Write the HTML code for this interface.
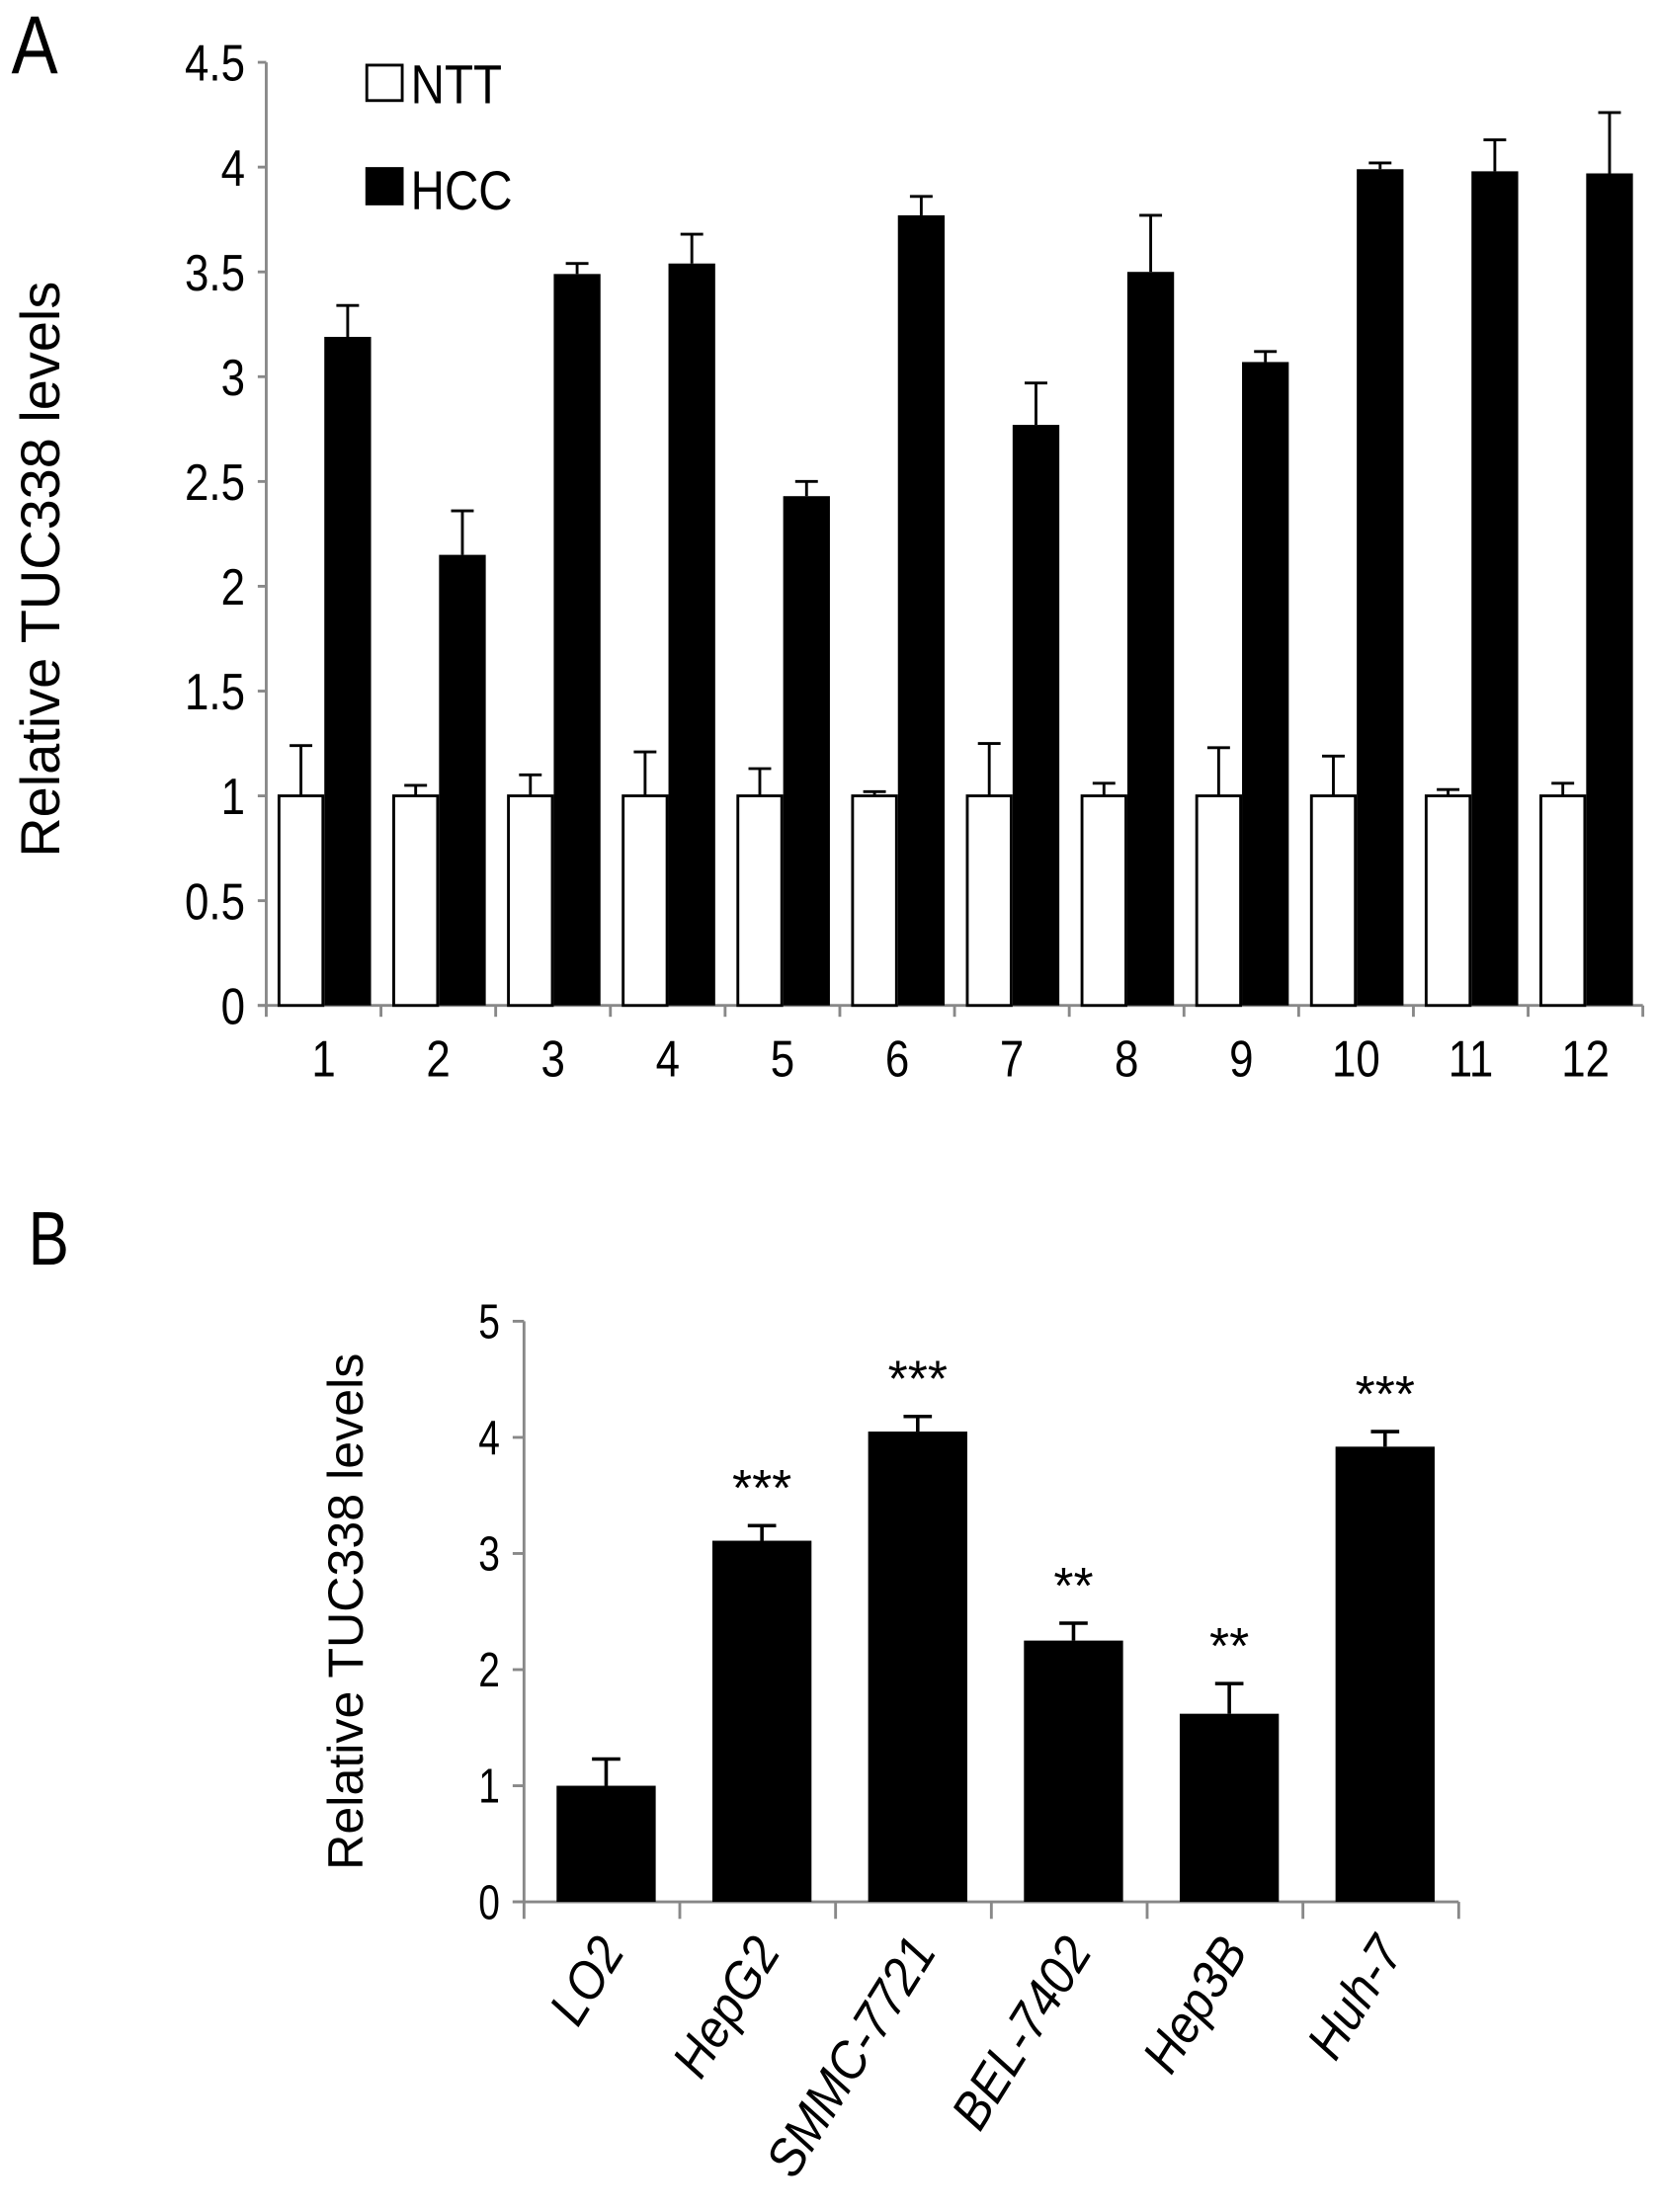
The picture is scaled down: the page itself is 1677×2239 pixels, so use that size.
<!DOCTYPE html>
<html><head><meta charset="utf-8"><style>
html,body{margin:0;padding:0;background:#fff;}
svg{display:block;}
text{font-family:"Liberation Sans",sans-serif;fill:#000;}
</style></head><body>
<svg id="fig" width="1677" height="2239" viewBox="0 0 1170 1562" preserveAspectRatio="none" xmlns="http://www.w3.org/2000/svg">
<rect width="1170" height="1562" fill="#fff"/>
<text x="0" y="0" font-size="58" transform="translate(8,52) scale(0.85,1)">A</text>
<text x="0" y="0" font-size="54" transform="translate(20,893) scale(0.8,1)">B</text>
<g id="chartA"></g>
<g id="chartB"></g>
</svg>
<script>
const catsA = ['1','2','3','4','5','6','7','8','9','10','11','12'];
const nttVals = [1,1,1,1,1,1,1,1,1,1,1,1];
const nttErr = [0.24,0.05,0.10,0.21,0.13,0.02,0.25,0.06,0.23,0.19,0.03,0.06];
const hccVals = [3.19,2.15,3.49,3.54,2.43,3.77,2.77,3.50,3.07,3.99,3.98,3.97];
const hccErr = [0.15,0.21,0.05,0.14,0.07,0.09,0.20,0.27,0.05,0.03,0.15,0.29];
const ticksA = ['0','0.5','1','1.5','2','2.5','3','3.5','4','4.5'];

const catsB = ['LO2','HepG2','SMMC-7721','BEL-7402','Hep3B','Huh-7'];
const valsB = [1.0,3.11,4.05,2.25,1.62,3.92];
const errB = [0.23,0.13,0.13,0.15,0.26,0.13];
const starsB = ['','***','***','**','**','***'];
const ticksB = ['0','1','2','3','4','5'];

const NS='http://www.w3.org/2000/svg';
function mk(parent,tag,attrs,txt){const e=document.createElementNS(NS,tag);for(const k in attrs)e.setAttribute(k,attrs[k]);if(txt!==undefined)e.textContent=txt;parent.appendChild(e);return e;}

// Chart A
(function(){
const g=document.getElementById('chartA');
const x0=188,x1=1160,y0=710,yTop=44,max=4.5;
const y=v=>y0-(v/max)*(y0-yTop);
const cw=(x1-x0)/catsA.length;
const cx=i=>x0+i*cw;
let e;
e=mk(g,'line',{x1:x0,y1:yTop,x2:x0,y2:y0,stroke:'#888','stroke-width':2});


e=mk(g,'line',{x1:x0-6,y1:y0,x2:x1,y2:y0,stroke:'#888','stroke-width':2});


ticksA.forEach(t=>{const v=parseFloat(t);
 mk(g,'line',{x1:x0-6,y1:y(v),x2:x0,y2:y(v),stroke:'#888','stroke-width':2});
 e=mk(g,'text',{x:0,y:0,'font-size':36,'text-anchor':'end',transform:'translate(173,'+(y(v)+13)+') scale(0.85,1)'},t);
 
 
});
for(let i=0;i<=catsA.length;i++)mk(g,'line',{x1:cx(i),y1:y0,x2:cx(i),y2:y0+8,stroke:'#888','stroke-width':2});
catsA.forEach((c,i)=>{
 const l=cx(i)+9;
 const yt=y(nttVals[i]+nttErr[i]), cxn=l+15.5;
 mk(g,'line',{x1:cxn,y1:y(nttVals[i]),x2:cxn,y2:yt,stroke:'#000','stroke-width':2});
 mk(g,'line',{x1:cxn-8,y1:yt,x2:cxn+8,y2:yt,stroke:'#000','stroke-width':2});
 e=mk(g,'rect',{x:l,y:y(nttVals[i]),width:31,height:y0-y(nttVals[i]),fill:'#fff',stroke:'#000','stroke-width':2});
 
 
 const yh=y(hccVals[i]+hccErr[i]), cxh=l+32+16.5;
 mk(g,'line',{x1:cxh,y1:y(hccVals[i]),x2:cxh,y2:yh,stroke:'#000','stroke-width':2});
 mk(g,'line',{x1:cxh-8,y1:yh,x2:cxh+8,y2:yh,stroke:'#000','stroke-width':2});
 e=mk(g,'rect',{x:l+32,y:y(hccVals[i]),width:33,height:y0-y(hccVals[i]),fill:'#000'});
 
 
 e=mk(g,'text',{x:0,y:0,'font-size':36,'text-anchor':'middle',transform:'translate('+(cx(i)+cw/2)+',760) scale(0.85,1)'},c);
 
 
});
e=mk(g,'text',{x:0,y:0,'font-size':39,'text-anchor':'middle',transform:'translate(42,402) rotate(-90)'},'Relative TUC338 levels');


e=mk(g,'rect',{x:259,y:46,width:25,height:25,fill:'#fff',stroke:'#000','stroke-width':2});


e=mk(g,'text',{x:0,y:0,'font-size':39,transform:'translate(290,73) scale(0.85,1)'},'NTT');


e=mk(g,'rect',{x:258,y:118,width:27,height:27,fill:'#000'});


e=mk(g,'text',{x:0,y:0,'font-size':39,transform:'translate(290,148) scale(0.85,1)'},'HCC');


})();

// Chart B
(function(){
const g=document.getElementById('chartB');
const x0=370,x1=1030,y0=1343,yTop=933,max=5;
const y=v=>y0-(v/max)*(y0-yTop);
const cw=(x1-x0)/catsB.length;
const cx=i=>x0+i*cw;
let e;
e=mk(g,'line',{x1:x0,y1:yTop,x2:x0,y2:y0,stroke:'#888','stroke-width':2});


e=mk(g,'line',{x1:x0-8,y1:y0,x2:x1,y2:y0,stroke:'#888','stroke-width':2});


ticksB.forEach(t=>{const v=parseFloat(t);
 mk(g,'line',{x1:x0-8,y1:y(v),x2:x0,y2:y(v),stroke:'#888','stroke-width':2});
 e=mk(g,'text',{x:0,y:0,'font-size':34,'text-anchor':'end',transform:'translate(353,'+(y(v)+12)+') scale(0.8,1)'},t);
 
 
});
for(let i=0;i<=catsB.length;i++)mk(g,'line',{x1:cx(i),y1:y0,x2:cx(i),y2:y0+12,stroke:'#888','stroke-width':2});
catsB.forEach((c,i)=>{
 const m=cx(i)+cw/2+3, yt=y(valsB[i]+errB[i]);
 mk(g,'line',{x1:m,y1:y(valsB[i]),x2:m,y2:yt,stroke:'#000','stroke-width':2.5});
 mk(g,'line',{x1:m-10,y1:yt,x2:m+10,y2:yt,stroke:'#000','stroke-width':2.5});
 e=mk(g,'rect',{x:m-35,y:y(valsB[i]),width:70,height:y0-y(valsB[i]),fill:'#000'});
 
 
 if(starsB[i]){e=mk(g,'text',{x:m,y:yt-14,'font-size':36,'text-anchor':'middle'},starsB[i]);
 
 }
 e=mk(g,'text',{x:0,y:0,'font-size':37,'font-style':'italic','text-anchor':'end',transform:'translate('+(m+14)+',1378) rotate(-58) scale(0.92,1)'},c);
 
 
});
e=mk(g,'text',{x:0,y:0,'font-size':35,'text-anchor':'middle',transform:'translate(256,1138) rotate(-90)'},'Relative TUC338 levels');


})();
</script>
</body></html>
